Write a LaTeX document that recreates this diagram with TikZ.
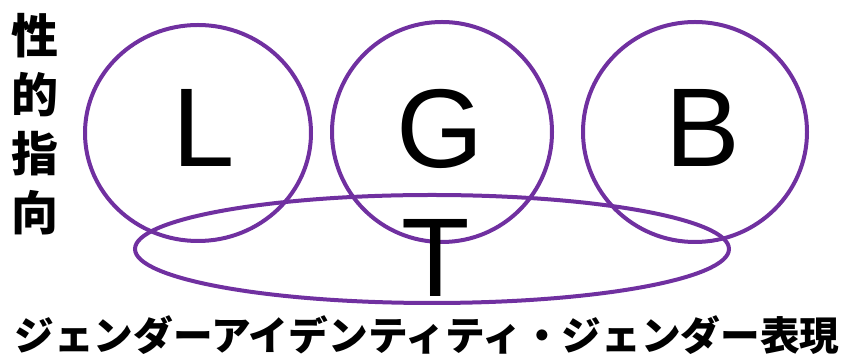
\documentclass[tikz,border=0pt]{standalone}
\usepackage{fontspec}
\setmainfont{Liberation Sans}
\newfontfamily\jpfont{Noto Sans CJK JP}
\usetikzlibrary{positioning}

\definecolor{lgbtpurple}{RGB}{112,48,160}

\begin{document}
\begin{tikzpicture}[
  x=1pt, y=1pt,
  ring/.style={draw=lgbtpurple, line width=4pt},
  letter/.style={anchor=base, inner sep=0pt, font=\fontsize{112}{112}\selectfont},
  caption/.style={inner sep=0pt, font=\jpfont\bfseries}
]
\useasboundingbox (0,0) rectangle (849,355);

% --- Rings ---
\draw[ring] (198,222) ellipse [x radius=113, y radius=108];
\draw[ring] (442,223) ellipse [x radius=110, y radius=110];
\draw[ring] (695,223) ellipse [x radius=112, y radius=110];
\draw[ring] (432,106) ellipse [x radius=297, y radius=54];

% --- Letters ---
\node[letter] (l) at (204,188) {L};
\node[letter] (g) at (440,187) {G};
\node[letter] (b) at (703,188) {B};
\node[letter] (t) at (436,58) {T};

% --- Captions ---
\node[caption, align=center, font=\jpfont\bfseries\fontsize{47}{59}\selectfont]
  (orient) at (35,231) {性\\的\\指\\向};
\node[caption, font=\jpfont\bfseries\fontsize{39.7}{40}\selectfont]
  (identity) at (427,20) {ジェンダーアイデンティティ・ジェンダー表現};

\end{tikzpicture}
\end{document}
